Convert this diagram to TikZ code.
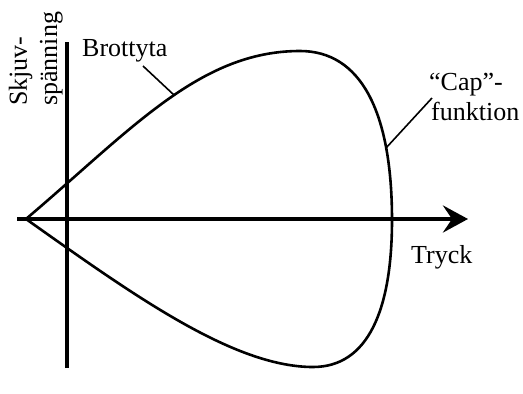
\documentclass[tikz,border=0pt]{standalone}
\usepackage{fontspec}
\setmainfont{Liberation Serif}
\usetikzlibrary{arrows.meta}
\begin{document}
\begin{tikzpicture}[x=1pt,y=-1pt,
  axis/.style={line width=4.5pt},
  surf/.style={line width=2.6pt, line join=round},
  leader/.style={line width=1.6pt},
  lbl/.style={font=\fontsize{26}{31}\selectfont, inner sep=0pt, anchor=base west}]
\useasboundingbox (0,0) rectangle (523,394);
% axes
\coordinate (ys) at (67,368);
\coordinate (ye) at (67,42);
\draw[axis] (ys) -- (ye);
\coordinate (xs) at (17,219);
\coordinate (xe) at (468,219);
\draw[axis, -{Stealth[length=25pt, width=27pt, inset=9pt]}] (xs) -- (xe);
% yield surface with cap
\coordinate (tip) at (26,219);
\coordinate (top) at (300,51);
\coordinate (rgt) at (392,220);
\coordinate (bot) at (313,367);
\draw[surf] (tip) .. controls (132,129) and (200,51) .. (top)
  .. controls (360,51) and (392,110) .. (rgt)
  .. controls (392,310) and (368,367) .. (bot)
  .. controls (233,367) and (132,294) .. (tip);
% labels
\node[lbl] (brott) at (82,56) {Brottyta};
\node[lbl] (tryck) at (411,263) {Tryck};
\node[lbl] (cap) at (429,90) {“Cap”-};
\node[lbl] (funk) at (431,120) {funktion};
\node[lbl, rotate=90] (skj) at (27,106) {Skjuv-};
\node[lbl, rotate=90] (spa) at (57,106) {spänning};
% leaders
\coordinate (b1) at (143,66);
\coordinate (b2) at (174,95);
\draw[leader] (b1) -- (b2);
\coordinate (c1) at (432,98);
\coordinate (c2) at (386,148);
\draw[leader] (c1) -- (c2);
\end{tikzpicture}
\end{document}
